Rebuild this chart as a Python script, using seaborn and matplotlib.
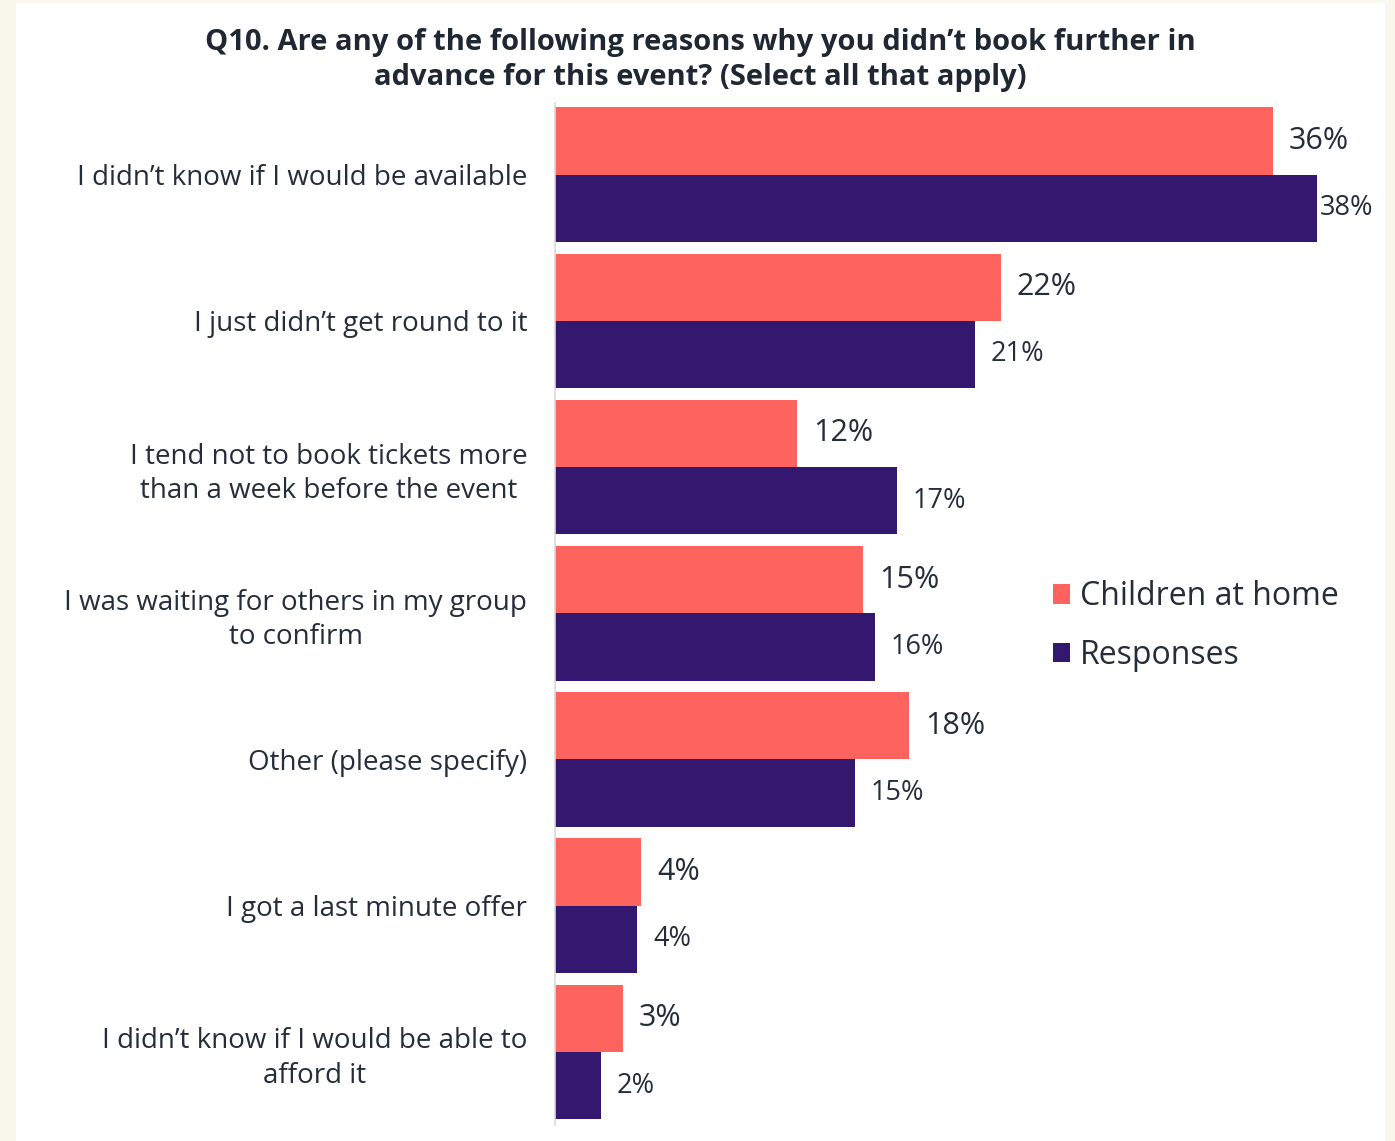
import matplotlib
matplotlib.use("Agg")
import matplotlib.pyplot as plt
from matplotlib.patches import Rectangle
import seaborn as sns
import pandas as pd

# Survey answers (percent of respondents)
reasons = [
    "I didn\u2019t know if I would be available",
    "I just didn\u2019t get round to it",
    "I tend not to book tickets more\nthan a week before the event",
    "I was waiting for others in my group\nto confirm",
    "Other (please specify)",
    "I got a last minute offer",
    "I didn\u2019t know if I would be able to\nafford it",
]
children_at_home = [35.9, 22.3, 12.1, 15.4, 17.7, 4.3, 3.4]
responses = [38.1, 21.0, 17.1, 16.0, 15.0, 4.1, 2.3]
series_names = ["Children at home", "Responses"]

title = ("Q10. Are any of the following reasons why you didn\u2019t book further in\n"
         "advance for this event? (Select all that apply)")

CORAL = "#FF635E"
PURPLE = "#341870"
TEXT = "#252D3A"
CREAM = "#FAF8EC"

df = pd.DataFrame({
    "reason": reasons * 2,
    "value": children_at_home + responses,
    "series": [series_names[0]] * len(reasons) + [series_names[1]] * len(reasons),
})

sns.set_theme(style="white")
plt.rcParams["font.family"] = ["Open Sans", "DejaVu Sans"]

W, H = 1395, 1141
fig = plt.figure(figsize=(W / 100, H / 100), dpi=100, facecolor=CREAM)
# white card behind the chart
fig.patches.append(Rectangle((16 / W, 0), (1385 - 16) / W, 1 - 3 / H,
                             transform=fig.transFigure, facecolor="white",
                             edgecolor="none", zorder=-10))

ax = fig.add_axes([555 / W, 1 - 1125 / H, (1385 - 555) / W, (1125 - 103) / H])
ax.set_zorder(1)
ax.set_facecolor("none")

sns.barplot(data=df, y="reason", x="value", hue="series", orient="h",
            palette=[CORAL, PURPLE], width=0.92, ax=ax, order=reasons,
            hue_order=series_names, saturation=1, legend=True, linewidth=0)

xmax = 41.5
ax.set_xlim(0, xmax)
ax.set_ylim(6.5, -0.49)
ax.set_xlabel("")
ax.set_ylabel("")
ax.set_xticks([])
ax.tick_params(axis="y", length=0, pad=20)
ax.set_yticklabels(reasons, fontsize=20, color=TEXT, ha="right",
                   multialignment="center")
for lbl in ax.get_yticklabels():
    lbl.set_linespacing(1.3)
for s in ["top", "right", "bottom"]:
    ax.spines[s].set_visible(False)
ax.spines["left"].set_color("#D9D9D9")
ax.spines["left"].set_linewidth(1.2)

# value labels next to bar ends
px_per_unit = (1385 - 555) / xmax
for container, vals, size in zip(ax.containers, [children_at_home, responses], [22, 19.5]):
    for bar, v in zip(container, vals):
        yc = bar.get_y() + bar.get_height() / 2
        x = v + 16 / px_per_unit
        if x > 38.25:
            x = v + 3 / px_per_unit
        ax.text(x, yc, f"{round(v):d}%", va="center", ha="left",
                fontsize=size, color=TEXT)

leg = ax.legend(loc="center left", bbox_to_anchor=(1024 / W, 1 - 626 / H),
                bbox_transform=fig.transFigure, frameon=False, fontsize=23,
                handlelength=0.55, handleheight=0.55, handletextpad=0.3,
                labelspacing=0.8)
for t in leg.get_texts():
    t.set_color(TEXT)

fig.text(700 / W, 1 - 60 / H, title, ha="center", va="center",
         fontsize=21, fontweight="bold", color="#1F2733", linespacing=1.25)

fig.savefig("out.png", dpi=100, facecolor=CREAM)
